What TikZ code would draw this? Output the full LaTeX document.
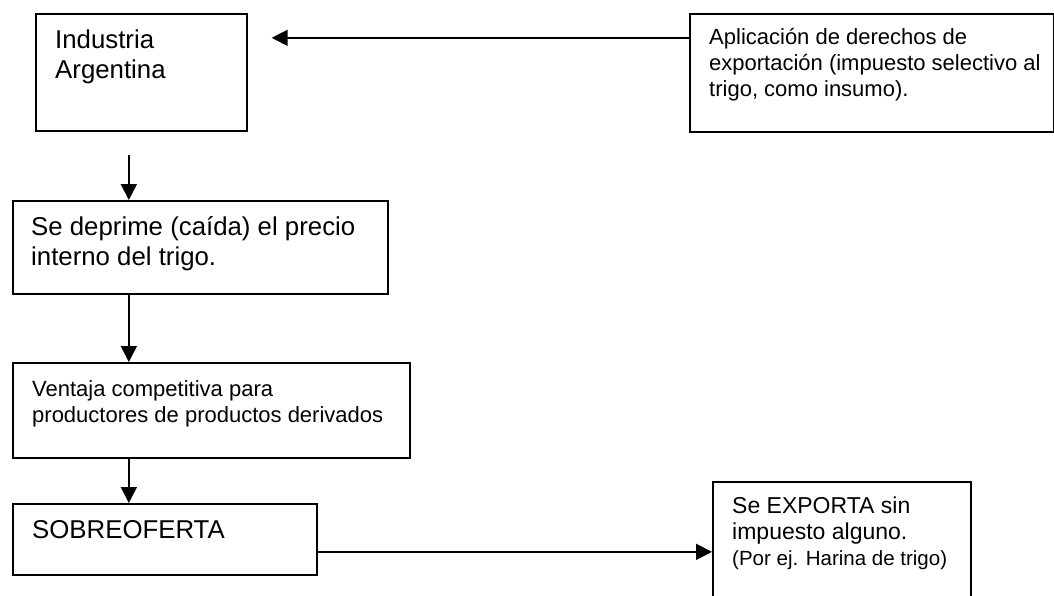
\documentclass[tikz,border=0pt]{standalone}
\usepackage{fontspec}
\setmainfont{Liberation Sans}
\usetikzlibrary{arrows.meta,positioning}

\begin{document}
\begin{tikzpicture}[x=1pt, y=-1pt,
    box/.style = {draw=black, line width=1.7pt, rectangle, anchor=north west, inner sep=0pt},
    bigtxt/.style = {inner sep=0pt, align=left, font=\fontsize{25.8}{29.5}\selectfont},
    smalltxt/.style = {inner sep=0pt, align=left, font=\fontsize{22}{26}\selectfont},
    flow/.style = {draw, line width=1.8pt, -{Triangle[length=16pt,width=16pt]}}]
  \useasboundingbox (0,0) rectangle (1054,595);
  \clip (0,0) rectangle (1054,595);
  % boxes
  \node [box, minimum width=211pt, minimum height=117pt] (ind) at (35,13) {};
  \node [box, minimum width=364pt, minimum height=118pt] (apl) at (689,13) {};
  \node [box, minimum width=375pt, minimum height=93pt] (dep) at (12,200) {};
  \node [box, minimum width=397pt, minimum height=95pt] (vent) at (12,362) {};
  \node [box, minimum width=304pt, minimum height=71pt] (sob) at (12,503) {};
  \node [box, minimum width=258pt, minimum height=140pt] (exp) at (712,481) {};
  % texts
  \node [bigtxt, below right=17pt and 20pt of ind.north west] (indtxt) {Industria\\Argentina};
  \node [smalltxt, below right=15.5pt and 20pt of apl.north west] (apltxt)
    {Aplicación de derechos de\\exportación (impuesto selectivo al\\trigo, como insumo).};
  \node [bigtxt, below right=16.5pt and 19pt of dep.north west] (deptxt)
    {Se deprime (caída) el precio\\interno del trigo.};
  \node [smalltxt, below right=18pt and 20pt of vent.north west] (venttxt)
    {Ventaja competitiva para\\productores de productos derivados};
  \node [bigtxt, below right=17pt and 20pt of sob.north west] (sobtxt) {SOBREOFERTA};
  \node [smalltxt, font=\fontsize{23}{26}\selectfont, below right=16pt and 20pt of exp.north west] (exptxt)
    {Se EXPORTA sin\\impuesto alguno.\\{\fontsize{20.5}{27}\selectfont(Por ej. Harina de trigo)}};
  % connectors
  \coordinate [above right=34.5pt and 24pt of ind.east] (indin);
  \draw [flow] (apl.west |- indin) -- (indin);
  \coordinate [below left=23pt and 12.5pt of ind.south] (indout);
  \draw [flow] (indout) -- (dep.north -| indout);
  \draw [flow] (dep.south -| indout) -- (vent.north -| indout);
  \draw [flow] (vent.south -| indout) -- (sob.north -| indout);
  \coordinate [below=12.5pt of sob.east] (sobout);
  \draw [flow] (sobout) -- (exp.west |- sobout);
\end{tikzpicture}
\end{document}
